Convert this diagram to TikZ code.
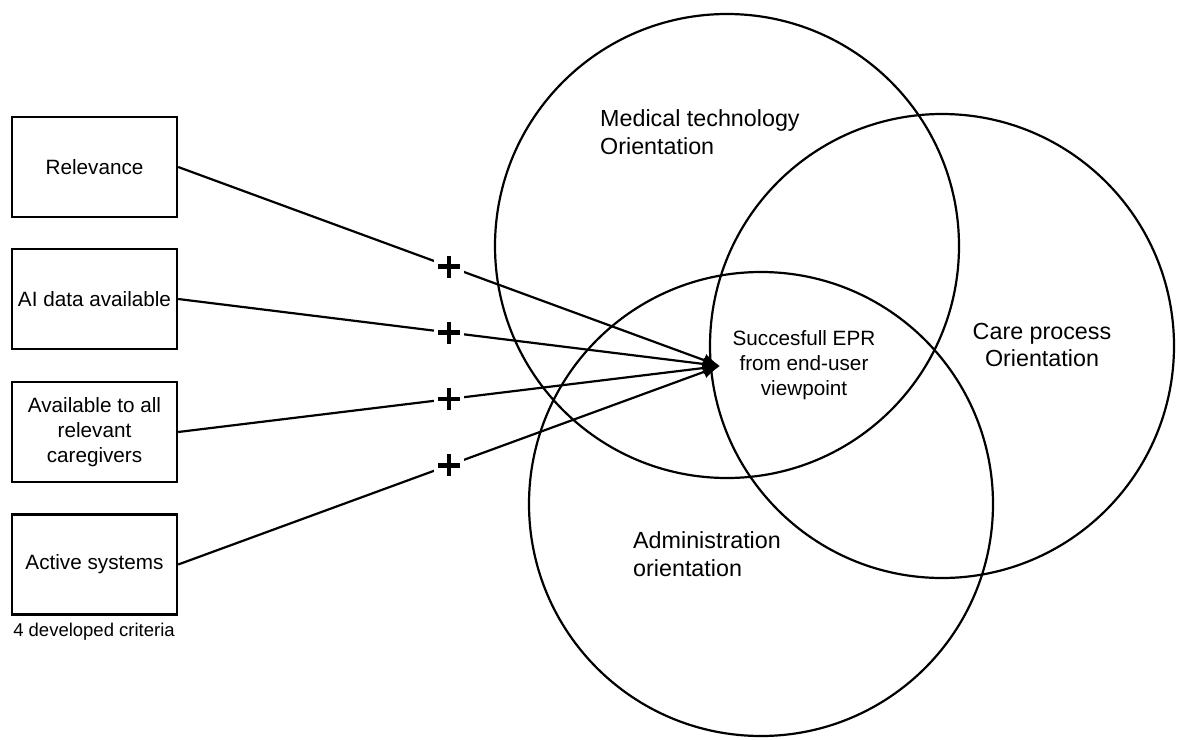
\documentclass[tikz,border=0pt]{standalone}
\usepackage{fontspec}
\setmainfont{Liberation Sans}
\usetikzlibrary{arrows.meta}
\begin{document}
\begin{tikzpicture}[x=1pt,y=-1pt,
  crit/.style={draw, line width=2.4pt, minimum width=165pt, minimum height=100pt,
    inner sep=0pt, align=center, font=\fontsize{20.7}{25}\selectfont},
  ring/.style={draw, line width=2.2pt},
  lbl/.style={font=\fontsize{23.3}{27.5}\selectfont, inner sep=0pt},
  link/.style={line width=2.2pt, -{Latex[length=17pt,width=13pt]}},
  plusmark/.style={fill=white, minimum size=30pt, inner sep=0pt, outer sep=0pt},
  plusbar/.style={line width=4.5pt}
]
\useasboundingbox (0,0) rectangle (1178,739);

% the three orientation circles
\coordinate (cmed) at (727,246);
\coordinate (ccare) at (942,346);
\coordinate (cadm) at (761,504);
\draw[ring] (cmed) circle[radius=232pt];
\draw[ring] (ccare) circle[radius=232pt];
\draw[ring] (cadm) circle[radius=232pt];

\node[lbl, anchor=west, align=left] (med) at (600,132) {Medical technology\\Orientation};
\node[lbl, align=center] (care) at (1042,345) {Care process\\Orientation};
\node[lbl, anchor=west, align=left] (adm) at (633,554) {Administration\\orientation};
\node[inner sep=0pt, align=center, font=\fontsize{20.7}{24.8}\selectfont] (epr) at (804,365)
  {Succesfull EPR\\from end-user\\viewpoint};

% criteria boxes
\node[crit] (b1) at (94.5,167) {Relevance};
\node[crit] (b2) at (94.5,299) {AI data available};
\node[crit] (b3) at (94.5,432) {Available to all\\relevant\\caregivers};
\node[crit] (b4) at (94.5,564.5) {Active systems};
\node[inner sep=0pt, font=\fontsize{18.5}{22}\selectfont] (crit) at (94,632) {4 developed criteria};

% links into the common point, each marked with a plus
\coordinate (tip) at (720,366);
\draw[link] (b1.east) -- node[plusmark, pos=0.5] (p1) {} (tip);
\draw[link] (b2.east) -- node[plusmark, pos=0.5] (p2) {} (tip);
\draw[link] (b3.east) -- node[plusmark, pos=0.5] (p3) {} (tip);
\draw[link] (b4.east) -- node[plusmark, pos=0.5] (p4) {} (tip);
\foreach \p in {p1,p2,p3,p4}
  \draw[plusbar] ([xshift=-11pt]\p.center) -- ([xshift=11pt]\p.center)
                 ([yshift=-11pt]\p.center) -- ([yshift=11pt]\p.center);
\end{tikzpicture}
\end{document}
